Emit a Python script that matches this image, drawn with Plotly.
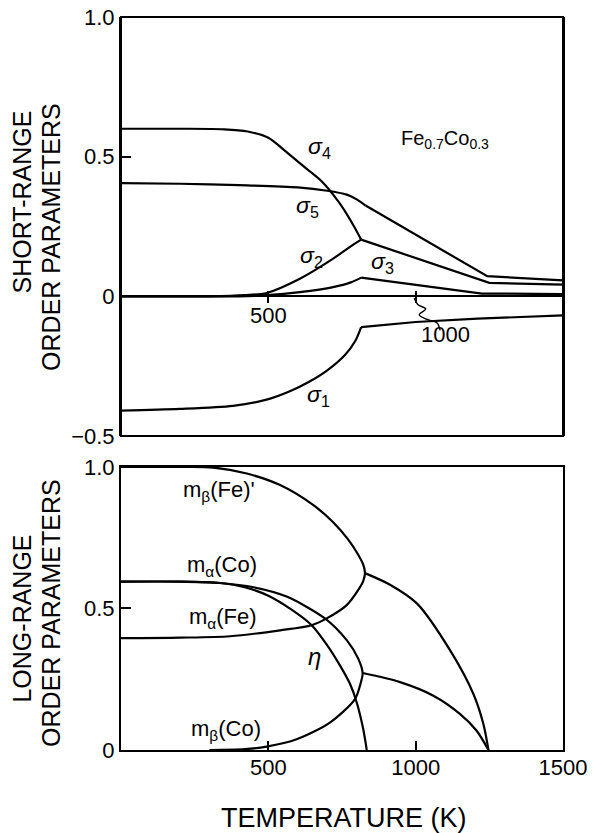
import plotly.graph_objects as go

# ---------------- Top panel: short-range order parameters ----------------
s4_T = [0, 200, 350, 430, 500, 560, 620, 680, 740, 790, 815]
s4_v = [0.600, 0.600, 0.598, 0.590, 0.568, 0.518, 0.465, 0.413, 0.336, 0.252, 0.203]
s24_T = [815, 1250, 1500]
s24_v = [0.203, 0.048, 0.042]
s5_T = [0, 200, 400, 600, 700, 766, 800, 830]
s5_v = [0.405, 0.403, 0.398, 0.390, 0.378, 0.364, 0.347, 0.325]
s5b_T = [830, 1243, 1500]
s5b_v = [0.325, 0.072, 0.057]
s2_T = [0, 300, 420, 494, 607, 720, 777, 815]
s2_v = [0.0, 0.0, 0.004, 0.012, 0.063, 0.135, 0.177, 0.203]
s3_T = [0, 400, 494, 607, 720, 780, 815]
s3_v = [0.0, 0.0, 0.004, 0.015, 0.033, 0.050, 0.067]
s3b_T = [815, 1225, 1500]
s3b_v = [0.067, 0.010, 0.008]
s1_T = [0, 200, 380, 494, 573, 640, 700, 760, 795, 815]
s1_v = [-0.409, -0.403, -0.392, -0.370, -0.340, -0.305, -0.265, -0.210, -0.160, -0.110]
s1b_T = [815, 1000, 1210, 1500]
s1b_v = [-0.110, -0.092, -0.080, -0.068]
squig_T = [995, 1008, 1034, 1012, 1036, 1072, 1083]
squig_v = [-0.007, -0.030, -0.045, -0.066, -0.082, -0.095, -0.122]

# ---------------- Bottom panel: long-range order parameters ----------------
mbFe_T = [0, 200, 313, 427, 540, 653, 720, 770, 805, 822, 828]
mbFe_v = [1.0, 1.0, 0.998, 0.977, 0.936, 0.865, 0.805, 0.745, 0.690, 0.655, 0.625]
maFe_T = [828, 822, 808, 766, 698, 647, 540, 370, 200, 0]
maFe_v = [0.625, 0.597, 0.570, 0.512, 0.465, 0.441, 0.423, 0.402, 0.397, 0.395]
outFe_T = [828, 913, 1004, 1117, 1196, 1230, 1247]
outFe_v = [0.625, 0.584, 0.518, 0.352, 0.198, 0.091, 0.0]
maCo_T = [0, 200, 336, 450, 562, 692, 766, 805, 820]
maCo_v = [0.595, 0.595, 0.590, 0.575, 0.542, 0.465, 0.388, 0.323, 0.272]
mbCo_T = [820, 813, 794, 709, 596, 494, 420, 300]
mbCo_v = [0.272, 0.235, 0.180, 0.097, 0.038, 0.012, 0.003, 0.0]
outCo_T = [820, 947, 1060, 1151, 1207, 1247]
outCo_v = [0.272, 0.240, 0.192, 0.127, 0.068, 0.0]
eta_T = [0, 200, 336, 420, 500, 580, 647, 700, 743, 777, 800, 822, 834]
eta_v = [0.595, 0.595, 0.590, 0.575, 0.545, 0.495, 0.441, 0.370, 0.299, 0.234, 0.168, 0.074, 0.0]

x_ticks = [0, 500, 1000, 1500]
x_ticktext = ["", "500", "1000", "1500"]

LW = 2.2
BLK = "black"
FONT = "Liberation Sans, Arial, sans-serif"

fig = go.Figure()


def add(xs, ys, xa, ya, shape="spline"):
    fig.add_trace(go.Scatter(
        x=xs, y=ys, xaxis=xa, yaxis=ya, mode="lines",
        line=dict(color=BLK, width=LW, shape=shape, smoothing=0.8 if shape == "spline" else None),
        showlegend=False, hoverinfo="skip"))


# top panel
add(s4_T, s4_v, "x2", "y2")
add(s24_T, s24_v, "x2", "y2", "linear")
add(s5_T, s5_v, "x2", "y2")
add(s5b_T, s5b_v, "x2", "y2", "linear")
add(s2_T, s2_v, "x2", "y2")
add(s3_T, s3_v, "x2", "y2")
add(s3b_T, s3b_v, "x2", "y2", "linear")
add(s1_T, s1_v, "x2", "y2")
add(s1b_T, s1b_v, "x2", "y2", "linear")
fig.add_trace(go.Scatter(x=squig_T, y=squig_v, xaxis="x2", yaxis="y2", mode="lines",
                         line=dict(color=BLK, width=1.4, shape="spline", smoothing=1.0),
                         showlegend=False, hoverinfo="skip"))

# bottom panel
add(mbFe_T + maFe_T[1:], mbFe_v + maFe_v[1:], "x", "y")
add(outFe_T, outFe_v, "x", "y")
add(maCo_T + mbCo_T[1:], maCo_v + mbCo_v[1:], "x", "y")
add(outCo_T, outCo_v, "x", "y")
add(eta_T, eta_v, "x", "y")

top_dom = [0.4284, 1.0]
bot_dom = [0.0, 0.3861]
zero_pos = top_dom[0] + (0 - (-0.5)) / 1.5 * (top_dom[1] - top_dom[0])

tickfont = dict(family=FONT, size=22, color=BLK)

fig.update_layout(
    width=595, height=833,
    paper_bgcolor="white", plot_bgcolor="white",
    margin=dict(l=121, r=32, t=17, b=83, autoexpand=False),
    xaxis=dict(domain=[0, 1], range=[0, 1500], anchor="y", tickvals=x_ticks, ticktext=x_ticktext,
               ticks="inside", ticklen=9, tickwidth=1.5, tickcolor=BLK, showline=True, mirror=True,
               linecolor=BLK, linewidth=2, showgrid=False, zeroline=False, tickfont=tickfont,
               ticklabeloverflow="allow", ticklabelstandoff=-3),
    yaxis=dict(domain=bot_dom, range=[0, 1.0], anchor="x", tickvals=[0, 0.5, 1.0],
               ticktext=["0", "0.5", "1.0"], ticks="inside", ticklen=10, tickwidth=1.5, tickcolor=BLK,
               showline=True, mirror=True, linecolor=BLK, linewidth=2, showgrid=False, zeroline=False,
               tickfont=tickfont, ticklabeloverflow="allow"),
    xaxis2=dict(domain=[0, 1], range=[0, 1500], anchor="free", position=zero_pos,
                tickvals=[500, 1000], ticktext=["500", ""], ticks="outside", ticklen=6, tickwidth=1.5,
                tickcolor=BLK, showline=False, showgrid=False, zeroline=False, tickfont=tickfont,
                ticklabeloverflow="allow", ticklabelstandoff=-7),
    xaxis3=dict(domain=[0, 1], range=[0, 1500], anchor="free", position=zero_pos, overlaying="x2",
                matches="x2", tickvals=[500, 1000], ticktext=["", ""], ticks="inside", ticklen=5,
                tickwidth=1.5, tickcolor=BLK, showline=False, showgrid=False, zeroline=False,
                showticklabels=False),
    yaxis2=dict(domain=top_dom, range=[-0.5, 1.0], anchor="x2", tickvals=[-0.5, 0, 0.5, 1.0],
                ticktext=["\u22120.5", "0", "0.5", "1.0"], ticks="inside", ticklen=10, tickwidth=1.5,
                tickcolor=BLK, showline=True, mirror=True, linecolor=BLK, linewidth=2, showgrid=False,
                zeroline=True, zerolinecolor=BLK, zerolinewidth=1.5, tickfont=tickfont,
                ticklabeloverflow="allow"),
    shapes=[dict(type="rect", xref="x2 domain", yref="y2 domain", x0=0, x1=1, y0=0, y1=1,
                 line=dict(color=BLK, width=2), fillcolor="rgba(0,0,0,0)")],
)

# invisible trace so xaxis3 is rendered
fig.add_trace(go.Scatter(x=[0], y=[0], xaxis="x3", yaxis="y2", mode="markers",
                         marker=dict(opacity=0), showlegend=False, hoverinfo="skip"))

ann = []


def note(text, x, y, xref, yref, size=20, **kw):
    ann.append(dict(text=text, x=x, y=y, xref=xref, yref=yref, showarrow=False,
                    xanchor="center", yanchor="middle",
                    font=dict(family=FONT, size=size, color=BLK), **kw))


note("<i>\u03c3</i><sub>4</sub>", 675, 0.534, "x2", "y2", size=23)
note("<i>\u03c3</i><sub>5</sub>", 634, 0.323, "x2", "y2", size=23)
note("<i>\u03c3</i><sub>2</sub>", 648, 0.143, "x2", "y2", size=23)
note("<i>\u03c3</i><sub>3</sub>", 886, 0.122, "x2", "y2", size=23)
note("<i>\u03c3</i><sub>1</sub>", 669, -0.355, "x2", "y2", size=23)
note("Fe<sub>0.7</sub>Co<sub>0.3</sub>", 1100, 0.56, "x2", "y2", size=20)
note("1000", 1100, -0.136, "x2", "y2", size=22)

note("m<sub>\u03b2</sub>(Fe)'", 333, 0.915, "x", "y", size=22)
note("m<sub>\u03b1</sub>(Co)", 343, 0.651, "x", "y", size=22)
note("m<sub>\u03b1</sub>(Fe)", 346, 0.466, "x", "y", size=22)
note("m<sub>\u03b2</sub>(Co)", 356, 0.071, "x", "y", size=22)
note("<i>\u03b7</i>", 655, 0.331, "x", "y", size=24)

# axis titles (two lines, rotated)
note("SHORT-RANGE", -0.2229, 0.7476, "paper", "paper", size=25, textangle=-90)
note("ORDER PARAMETERS", -0.1584, 0.700, "paper", "paper", size=25, textangle=-90)
note("LONG-RANGE", -0.2229, 0.180, "paper", "paper", size=25, textangle=-90)
note("ORDER PARAMETERS", -0.1584, 0.187, "paper", "paper", size=25, textangle=-90)
note("TEMPERATURE (K)", 0.505, -0.0928, "paper", "paper", size=27)

fig.update_layout(annotations=ann)
fig.write_html("out.html", config={"displayModeBar": False},
               post_script="document.body.style.margin='0';")
